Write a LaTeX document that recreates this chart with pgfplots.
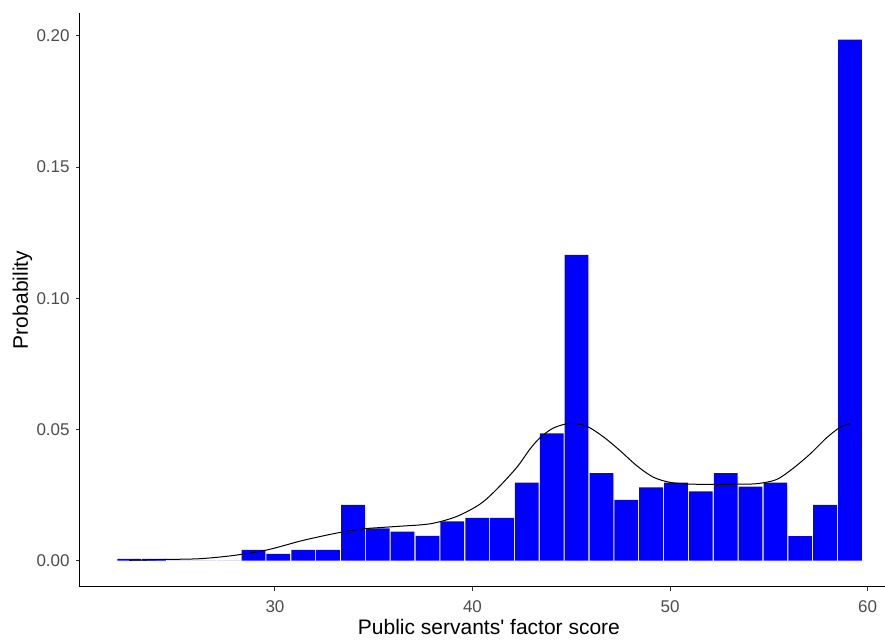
\documentclass[border=0pt]{standalone}
\usepackage{fontspec}
\setmainfont{Liberation Sans}
\usepackage{pgfplots}
\pgfplotsset{compat=1.18}
\definecolor{grey30}{RGB}{77,77,77}
\definecolor{grey20}{RGB}{51,51,51}
\definecolor{barblue}{RGB}{0,0,255}
\begin{document}
\begin{tikzpicture}
\begin{axis}[
  at={(0,0)}, anchor=south west,
  scale only axis, width=402.5pt, height=286.6pt,
  xmin=20.127, xmax=60.886, ymin=-0.00994, ymax=0.2086,
  axis lines=left,
  x axis line style={-, black, line width=0.5pt},
  y axis line style={-, black, line width=0.5pt},
  xtick={30,40,50,60}, ytick={0,0.05,0.1,0.15,0.2},
  /pgf/number format/assume math mode=true,
  yticklabel style={/pgf/number format/fixed, /pgf/number format/fixed zerofill, /pgf/number format/precision=2},
  tick align=outside, major tick length=2pt,
  tick style={grey20, line width=0.5pt},
  ticklabel style={font=\fontsize{8.5}{10}\selectfont, text=grey30, inner sep=0pt},
  xticklabel style={anchor=base, yshift=-10.8pt},
  yticklabel style={anchor=east, xshift=-3pt},
  label style={font=\fontsize{10.5}{12}\selectfont},
  xlabel={Public servants\textquotesingle{} factor score},
  xlabel style={at={(axis description cs:0.508,0)}, anchor=base, yshift=-24pt, inner sep=0pt},
  ylabel={Probability},
  ylabel style={at={(axis description cs:0,0.5)}, anchor=base, yshift=26pt, inner sep=0pt},
  clip=false,
]
\addplot[ybar interval, fill=barblue, draw=none, bar interval width=0.955, bar interval shift=0.5] coordinates {
(21.990,0.0006) (23.248,0.0006) (24.507,0) (25.765,0) (27.023,0)
(28.282,0.0041) (29.540,0.0025) (30.798,0.0041) (32.056,0.0041) (33.315,0.0212)
(34.573,0.0123) (35.831,0.0110) (37.090,0.0094) (38.348,0.0149) (39.606,0.0163)
(40.865,0.0163) (42.123,0.0297) (43.381,0.0485) (44.639,0.1165) (45.898,0.0333)
(47.156,0.0231) (48.414,0.0279) (49.673,0.0297) (50.931,0.0264) (52.189,0.0333)
(53.448,0.0282) (54.706,0.0297) (55.964,0.0093) (57.222,0.0212) (58.481,0.1986)
(59.739,0.1986)
};
\addplot[black, line width=0.5pt, smooth, tension=0.5] coordinates {
(22.63,0.0001) (23.5,0.0002) (24.43,0.0004) (26.2,0.0007) (27.87,0.0019)
(29.58,0.0040) (31.27,0.0074) (32.5,0.0095) (33.5,0.0110) (34.47,0.0121)
(36.16,0.0130) (37.85,0.0140) (39.2,0.0168) (40.38,0.0215) (41.23,0.0272)
(42.24,0.0355) (42.91,0.0425) (43.42,0.0468) (44.09,0.0505) (44.94,0.0523)
(45.78,0.0512) (46.62,0.0472) (47.47,0.0419) (48.31,0.0362) (49.15,0.0318)
(50.0,0.0298) (50.85,0.0292) (52.03,0.0290) (53.2,0.0291) (54.39,0.0293)
(55.4,0.0309) (56.24,0.0352) (57.09,0.0406) (57.93,0.0468) (58.61,0.0508)
(59.11,0.0522)
};
\end{axis}
\pgfresetboundingbox
\path (-40pt,-26.2pt) rectangle (402.5pt,293.3pt);
\end{tikzpicture}
\end{document}
